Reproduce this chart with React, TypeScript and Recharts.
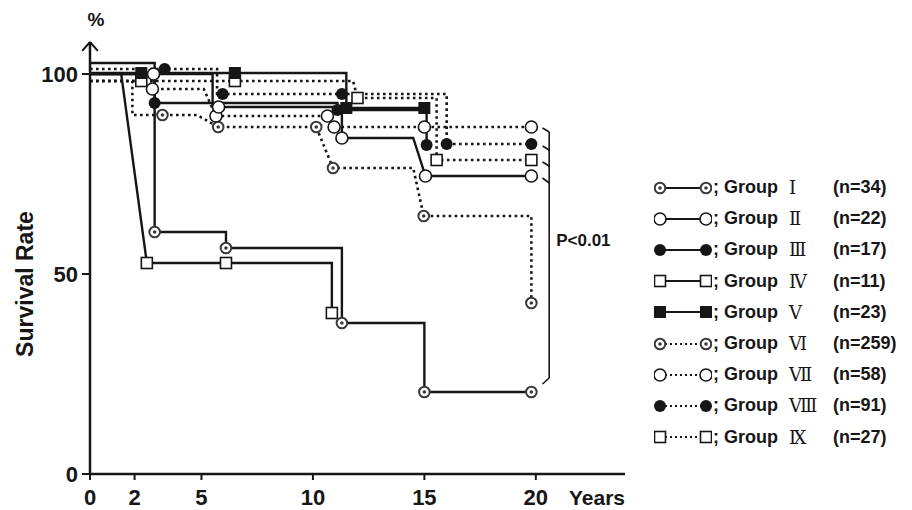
import React from "react";
import {
  LineChart,
  Line,
  XAxis,
  YAxis,
  ReferenceLine,
  ReferenceDot,
  Legend,
} from "recharts";

// each point: [years, survival %, symbol drawn at this point (1) or not (0)]
type Pt = [number, number, number];

const xTicks = [0, 2, 5, 10, 15, 20];
const yTicks = [0, 50, 100];

const groupNames = ["Ⅰ", "Ⅱ", "Ⅲ", "Ⅳ", "Ⅴ", "Ⅵ", "Ⅶ", "Ⅷ", "Ⅸ"];
const groupN = [34, 22, 17, 11, 23, 259, 58, 91, 27];

const group1: Pt[] = [
  [0, 100, 0], [2.9, 100, 0], [2.9, 60.5, 1], [6.1, 60.5, 0], [6.1, 56.5, 1],
  [11.3, 56.5, 0], [11.3, 37.75, 1], [15, 37.75, 0], [15, 20.5, 1], [19.8, 20.5, 1],
];
const group2: Pt[] = [
  [0, 100, 0], [2.85, 100, 1], [5.5, 100, 0], [5.5, 91.75, 0], [5.77, 91.75, 1],
  [11.3, 91.75, 0], [11.3, 84, 1], [14.5, 84, 0], [15.05, 74.5, 1], [19.8, 74.5, 1],
];
const group3: Pt[] = [
  [0, 102.75, 0], [2.9, 102.75, 0], [2.9, 92.75, 1], [11.1, 92.75, 0], [11.1, 91, 1],
  [15.1, 91, 0], [15.1, 82.25, 1],
];
const group4: Pt[] = [
  [0, 100, 0], [1.4, 100, 0], [2.55, 52.75, 1], [6.1, 52.75, 1], [10.85, 52.75, 0],
  [10.85, 40.25, 1],
];
const group5: Pt[] = [
  [0, 100.25, 0], [2.3, 100.25, 1], [6.5, 100.25, 1], [11.5, 100.25, 0], [11.5, 91.5, 1],
  [15, 91.5, 1],
];
const group6: Pt[] = [
  [0, 98.25, 0], [1.9, 98.25, 0], [1.9, 89.75, 0], [3.25, 89.75, 1], [4.8, 89.75, 0],
  [5.75, 86.75, 1], [10.15, 86.75, 1], [10.9, 76.5, 1], [14.5, 76.5, 0], [14.97, 64.5, 1],
  [19.8, 64.5, 0], [19.8, 42.75, 1],
];
const group7: Pt[] = [
  [0, 98.25, 0], [2.75, 98.25, 0], [2.8, 96.25, 1], [5.1, 96.25, 0], [5.65, 89.5, 1],
  [10.65, 89.5, 1], [10.95, 86.75, 1], [15, 86.75, 1], [19.8, 86.75, 1],
];
const group8: Pt[] = [
  [0, 101.25, 0], [3.35, 101.25, 1], [5.7, 101.25, 0], [5.7, 95, 0], [5.95, 95, 1],
  [11.3, 95, 1], [16, 95, 0], [16, 82.5, 1], [19.8, 82.5, 1],
];
const group9: Pt[] = [
  [0, 98.25, 0], [2.3, 98.25, 1], [6.5, 98.25, 1], [11.8, 98.25, 0], [12, 94, 1],
  [15.55, 94, 0], [15.55, 78.5, 1], [19.8, 78.5, 1],
];

const groups = [group1, group2, group3, group4, group5, group6, group7, group8, group9];

// bracket ticks: [survival at curve end, survival at bar]
const bracketTicks = [
  [86.5, 85.5],
  [82, 81],
  [78, 77],
  [74, 72.75],
  [22.5, 24],
];

const FONT = "'Liberation Sans', Arial, Helvetica, sans-serif";
const ink = "#161616";

const seriesStyle = [
  { marker: "dotc", dotted: false },
  { marker: "open", dotted: false },
  { marker: "filled", dotted: false },
  { marker: "osq", dotted: false },
  { marker: "fsq", dotted: false },
  { marker: "dotc", dotted: true },
  { marker: "open", dotted: true },
  { marker: "filled", dotted: true },
  { marker: "osq", dotted: true },
];
const drawOrder = [5, 6, 7, 8, 3, 0, 1, 2, 4];

function Marker({ kind, cx, cy }: { kind: string; cx: number; cy: number }) {
  if (kind === "dotc")
    return (
      <g>
        <circle cx={cx} cy={cy} r={5.3} fill="#fff" stroke="#3a3a3a" strokeWidth={2} />
        <circle cx={cx} cy={cy} r={1.8} fill="#3a3a3a" />
      </g>
    );
  if (kind === "open")
    return <circle cx={cx} cy={cy} r={6} fill="#fff" stroke={ink} strokeWidth={1.6} />;
  if (kind === "filled") return <circle cx={cx} cy={cy} r={6} fill={ink} />;
  if (kind === "osq")
    return (
      <rect x={cx - 5.5} y={cy - 5.5} width={11} height={11} fill="#fff" stroke={ink} strokeWidth={1.6} />
    );
  return <rect x={cx - 6} y={cy - 6} width={12} height={12} fill={ink} />;
}

const renderDot = (kind: string, gi: number) => (p: any) => {
  const key = `d-${gi}-${p.index}`;
  if (!p.payload || !p.payload.c) return <g key={key} />;
  return (
    <g key={key}>
      <Marker kind={kind} cx={p.cx} cy={p.cy} />
    </g>
  );
};

function LegendBox() {
  return (
    <div style={{ fontFamily: FONT, fontWeight: 700, fontSize: 18, color: ink }}>
      {groupNames.map((g, i) => {
        const st = seriesStyle[i];
        return (
          <div key={g} style={{ display: "flex", alignItems: "center", height: 31.2, whiteSpace: "nowrap" }}>
            <svg width={58} height={20}>
              <line
                x1={6}
                x2={52}
                y1={10}
                y2={10}
                stroke={ink}
                strokeWidth={2}
                strokeDasharray={st.dotted ? "2 3" : undefined}
              />
              <Marker kind={st.marker} cx={6} cy={10} />
              <Marker kind={st.marker} cx={52} cy={10} />
            </svg>
            <span style={{ width: 76, marginLeft: 1 }}>; Group</span>
            <span
              style={{
                width: 44,
                fontFamily: "'DejaVu Serif', 'Noto Sans CJK JP', serif",
                fontWeight: 400,
                fontSize: 18,
              }}
            >
              {g}
            </span>
            <span>(n={groupN[i]})</span>
          </div>
        );
      })}
    </div>
  );
}

export default function App() {
  const tickStyle = { fill: ink, fontSize: 22, fontWeight: 700, fontFamily: FONT };
  return (
    <div style={{ position: "absolute", left: 0, top: 0, background: "#fff" }}>
      <LineChart width={912} height={510} margin={{ top: 42, right: 287, bottom: 0, left: 0 }}>
        <XAxis
          type="number"
          dataKey="t"
          domain={[0, 24]}
          ticks={xTicks}
          height={36}
          tickSize={6}
          tickMargin={9}
          tick={tickStyle}
          axisLine={{ stroke: ink, strokeWidth: 2.5 }}
          tickLine={{ stroke: ink, strokeWidth: 2 }}
          label={{
            content: (p: any) => (
              <text
                x={p.viewBox.x + p.viewBox.width}
                y={p.viewBox.y + 31}
                textAnchor="end"
                fill={ink}
                fontSize={21}
                fontWeight={700}
                fontFamily={FONT}
              >
                Years
              </text>
            ),
          }}
        />
        <YAxis
          type="number"
          domain={[0, 108]}
          ticks={yTicks}
          width={90}
          tickSize={8}
          tickMargin={4}
          tick={tickStyle}
          axisLine={{ stroke: ink, strokeWidth: 2.5 }}
          tickLine={{ stroke: ink, strokeWidth: 2 }}
          label={{
            content: (p: any) => (
              <g fill={ink} fontWeight={700} fontFamily={FONT}>
                <text x={p.viewBox.x + p.viewBox.width + 6} y={26} textAnchor="middle" fontSize={19}>
                  %
                </text>
                <text
                  x={33}
                  y={284}
                  textAnchor="middle"
                  fontSize={23}
                  transform="rotate(-90 33 284)"
                >
                  Survival Rate
                </text>
              </g>
            ),
          }}
        />
        <ReferenceLine
          segment={[{ x: -0.35, y: 105.8 }, { x: 0, y: 108 }]}
          stroke={ink}
          strokeWidth={2}
          ifOverflow="visible"
        />
        <ReferenceLine
          segment={[{ x: 0.35, y: 105.8 }, { x: 0, y: 108 }]}
          stroke={ink}
          strokeWidth={2}
          ifOverflow="visible"
        />
        {drawOrder.map((gi) => {
          const st = seriesStyle[gi];
          const data = groups[gi].map(([t, s, c]) => ({ t, s, c }));
          return (
            <Line
              key={gi}
              name={`Group ${groupNames[gi]}`}
              data={data}
              dataKey="s"
              type="linear"
              stroke={ink}
              strokeWidth={st.dotted ? 2.6 : 2.4}
              strokeDasharray={st.dotted ? "2.6 3.4" : undefined}
              dot={renderDot(st.marker, gi)}
              activeDot={false}
              isAnimationActive={false}
            />
          );
        })}
        <ReferenceLine
          segment={[{ x: 20.6, y: bracketTicks[0][1] }, { x: 20.6, y: bracketTicks[4][1] }]}
          stroke={ink}
          strokeWidth={1.6}
        />
        {bracketTicks.map(([a, b], i) => (
          <ReferenceLine
            key={i}
            segment={[{ x: 20.3, y: a }, { x: 20.6, y: b }]}
            stroke={ink}
            strokeWidth={1.6}
          />
        ))}
        <ReferenceDot
          x={20.6}
          y={58.5}
          r={0}
          stroke="none"
          fill="none"
          label={{
            value: "P<0.01",
            position: "right",
            offset: 7,
            fill: ink,
            fontSize: 17,
            fontWeight: 700,
            fontFamily: FONT,
          }}
        />
        <Legend
          layout="vertical"
          align="center"
          verticalAlign="middle"
          wrapperStyle={{ left: 654, top: 172, width: 258 }}
          content={() => <LegendBox />}
        />
      </LineChart>
    </div>
  );
}
